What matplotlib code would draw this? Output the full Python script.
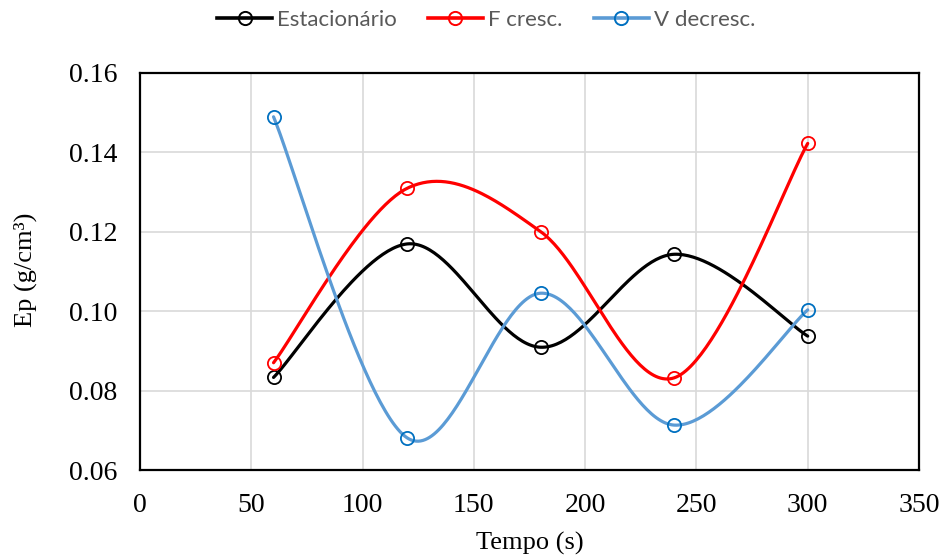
import numpy as np
import matplotlib
matplotlib.use("Agg")
import matplotlib.pyplot as plt

# Data
tempo = [60, 120, 180, 240, 300]
estacionario = [0.0833, 0.1169, 0.0909, 0.1143, 0.0937]
f_cresc = [0.0870, 0.1309, 0.1200, 0.0832, 0.1422]
v_decresc = [0.1489, 0.0681, 0.1045, 0.0713, 0.1003]

series_names = ["Estacionário", "F cresc.", "V decresc."]
line_colors = ["#000000", "#FF0000", "#5B9BD5"]
marker_colors = ["#000000", "#FF0000", "#0070C0"]

x_ticks = [0, 50, 100, 150, 200, 250, 300, 350]
y_ticks = [0.06, 0.08, 0.10, 0.12, 0.14, 0.16]


def smooth_curve(xs, ys, n=60):
    """Cubic Bezier smoothing through the points (Catmull-Rom style)."""
    p = np.column_stack([xs, ys]).astype(float)
    m = len(p)
    out = []
    for i in range(m - 1):
        p0 = p[i - 1] if i > 0 else p[i]
        p1 = p[i]
        p2 = p[i + 1]
        p3 = p[i + 2] if i + 2 < m else p[i + 1]
        c1 = p1 + (p2 - p0) / 6.0
        c2 = p2 - (p3 - p1) / 6.0
        t = np.linspace(0, 1, n)[:, None]
        seg = ((1 - t) ** 3) * p1 + 3 * ((1 - t) ** 2) * t * c1 \
            + 3 * (1 - t) * t ** 2 * c2 + t ** 3 * p2
        if i > 0:
            seg = seg[1:]
        out.append(seg)
    out = np.vstack(out)
    return out[:, 0], out[:, 1]


fig = plt.figure(figsize=(9.42, 5.59), dpi=100)
ax = fig.add_axes([140 / 942, 1 - 470 / 559, 779 / 942, 397.3 / 559])

handles = []
for name, ys, lc, mc in zip(series_names, [estacionario, f_cresc, v_decresc],
                            line_colors, marker_colors):
    sx, sy = smooth_curve(tempo, ys)
    ax.plot(sx, sy, color=lc, lw=2.3, solid_capstyle="round", zorder=3)
    ax.plot(tempo, ys, linestyle="none", marker="o", markersize=9.5,
            markerfacecolor="none", markeredgecolor=mc, markeredgewidth=1.3,
            zorder=4)
    h, = ax.plot([], [], color=lc, lw=2.6, marker="o", markersize=9.5,
                 markerfacecolor="none", markeredgecolor=mc,
                 markeredgewidth=1.4, label=name)
    handles.append(h)

ax.set_xlim(0, 350)
ax.set_ylim(0.06, 0.16)
ax.set_xticks(x_ticks)
ax.set_yticks(y_ticks)
ax.set_yticklabels([f"{v:.2f}" for v in y_ticks])
ax.grid(True, color="#D9D9D9", lw=1.2, zorder=0)
ax.set_axisbelow(True)
for s in ax.spines.values():
    s.set_color("#000000")
    s.set_linewidth(1.6)

serif = "Liberation Serif"
ax.tick_params(axis="both", length=0, labelsize=20)
ax.tick_params(axis="x", pad=16.5)
ax.tick_params(axis="y", pad=16.5)
for lab in ax.get_xticklabels() + ax.get_yticklabels():
    lab.set_fontfamily(serif)

ax.set_xlabel("Tempo (s)", fontsize=19, fontfamily=serif)
ax.set_ylabel("Ep (g/cm³)", fontsize=19, fontfamily=serif)
ax.xaxis.set_label_coords(0.5, (470 - 532) / 397.3)
ax.yaxis.set_label_coords((37 - 140) / 779, (470 - 270) / 397.3)

leg = fig.legend(handles=handles, loc="center", ncol=3,
                 bbox_to_anchor=(486 / 942, 1 - 20 / 559),
                 frameon=False, handlelength=2.48, handletextpad=0.225,
                 columnspacing=1.4, borderpad=0.2,
                 prop={"family": "Lato", "size": 16})
for t in leg.get_texts():
    t.set_color("#595959")

fig.savefig("out.png", dpi=100)
